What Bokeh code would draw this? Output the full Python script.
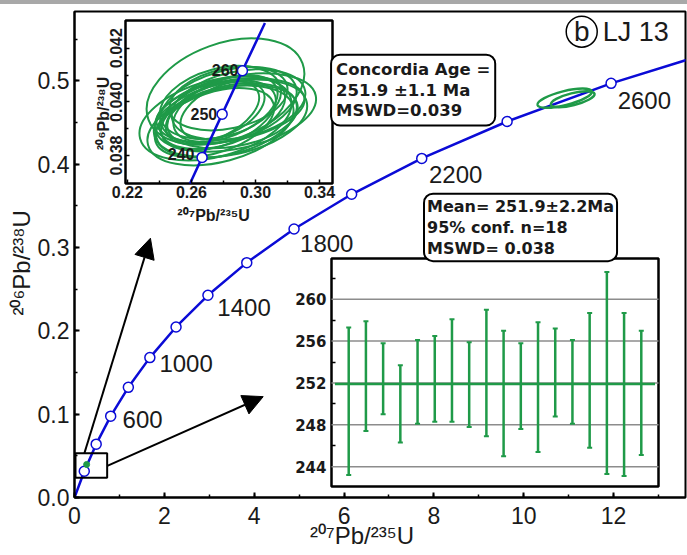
from bokeh.plotting import figure
from bokeh.models import (Range1d, LinearAxis, FixedTicker, SingleIntervalTicker,
                          NumeralTickFormatter, Label, Arrow, NormalHead, Spacer)
from bokeh.layouts import column
from bokeh.core.properties import value
from bokeh.embed import file_html
from bokeh.resources import INLINE

# ---------------- data ----------------
# concordia curve (age in Ma, 207Pb/235U, 206Pb/238U)
conc_age = [0, 200, 400, 600, 800, 1000, 1200, 1400, 1600, 1800, 2000, 2200, 2400, 2600, 2800]
conc_x = [0.0, 0.2177, 0.4828, 0.8056, 1.1987, 1.6774, 2.2603, 2.9701, 3.8344,
          4.8869, 6.1685, 7.7292, 9.6296, 11.9437, 14.7617]
conc_y = [0.0, 0.03151, 0.06402, 0.09754, 0.13213, 0.16781, 0.20460, 0.24256, 0.28172,
          0.32210, 0.36376, 0.40674, 0.45107, 0.49679, 0.54395]
age_labels = ["600", "1000", "1400", "1800", "2200", "2600"]
age_label_x = [1.07, 1.89, 3.18, 5.02, 7.89, 12.09]
age_label_y = [0.0935, 0.161, 0.228, 0.305, 0.388, 0.476]

# discordant ellipses on main diagram
main_ell_x = [10.91, 11.09]
main_ell_y = [0.479, 0.4778]
main_ell_w = [1.244, 1.0]
main_ell_h = [0.0168, 0.0144]
main_ell_angle = [14, 14]

# inset 1: zoomed concordia
ins_age = [234, 240, 250, 260, 271]
ins_x = [0.25912, 0.26664, 0.27917, 0.29183, 0.30590]
ins_y = [0.03696, 0.037932, 0.039543, 0.041157, 0.042935]
ins_labels = ["240", "250", "260"]
ell_x = [0.28126, 0.28751, 0.27501, 0.27814, 0.28313, 0.27939, 0.28438, 0.27689, 0.28126,
         0.27314, 0.28938, 0.28188, 0.27814, 0.28563, 0.27439, 0.28313, 0.27939, 0.28438]
ell_y = [0.040386, 0.039604, 0.039381, 0.039120, 0.039865, 0.039604, 0.039679, 0.039492, 0.039753,
         0.039604, 0.039902, 0.039306, 0.039976, 0.039455, 0.039232, 0.040125, 0.039679, 0.039381]
ell_w = [0.10243, 0.10243, 0.09744, 0.09369, 0.08744, 0.08120, 0.09369, 0.07495, 0.06871,
         0.06246, 0.08495, 0.08994, 0.07745, 0.08245, 0.07745, 0.07495, 0.05621, 0.09744]
ell_h = [0.003575, 0.002681, 0.002830, 0.002681, 0.002607, 0.002383, 0.002234, 0.002234, 0.002085,
         0.001936, 0.002458, 0.002532, 0.002532, 0.002234, 0.002234, 0.002234, 0.001788, 0.002681]
ell_angle = [20, 12, 15, 15, 15, 18, 10, 20, 22, 25, 12, 14, 15, 10, 18, 12, 25, 12]
ins_xticks = [0.22, 0.26, 0.30, 0.34]
ins_xminor = [0.24, 0.28, 0.32]
ins_yticks = [0.038, 0.040, 0.042]
ins_yminor = [0.039, 0.041]

# inset 2: weighted mean ages
wm_idx = list(range(1, 19))
wm_low = [243.2, 247.4, 249.0, 246.3, 248.1, 248.3, 248.3, 247.8, 246.9,
          245.0, 247.6, 245.4, 248.8, 248.1, 245.8, 243.3, 243.1, 245.1]
wm_high = [257.3, 257.9, 255.8, 253.7, 256.1, 256.5, 258.1, 255.9, 259.0,
           257.0, 255.8, 257.8, 257.2, 256.1, 258.7, 262.6, 258.7, 257.0]
wm_mean = 251.9
wm_ticks = [244, 248, 252, 256, 260]
wm_minor = [246, 250, 254, 258, 262]

# ---------------- styling ----------------
BLUE = "#0b0bd6"
GREEN = "#1f9a48"
TXT = "#1a1a1a"
SANS = "Liberation Sans"
WIDE = "DejaVu Sans"

# frame edges in page pixels (page has a 4px grey strip on top)
FL, FR, FT, FB = 74, 685, 11, 497


def frame_range(p0, p1, v0, v1, f0, f1):
    k = (v1 - v0) / (p1 - p0)
    return Range1d(start=v0 + (f0 - p0) * k, end=v0 + (f1 - p0) * k)


# inset boxes in page pixels and their domains
I1 = dict(l=125, r=332, t=20, b=183, x0=0.2188, x1=0.3481, y0=0.03696, y1=0.04303)
I2 = dict(l=331, r=658, t=258, b=486, x0=0.0, x1=19.0, y0=242.1, y1=263.9)

p = figure(width=687, height=551, x_range=Range1d(0, 13.6), y_range=Range1d(0, 0.583),
           output_backend="svg", toolbar_location=None,
           min_border_left=FL, min_border_right=687 - FR, min_border_top=FT - 4,
           min_border_bottom=551 - (FB - 4))
p.extra_x_ranges = {
    "i1x": frame_range(I1["l"], I1["r"], I1["x0"], I1["x1"], FL, FR),
    "i2x": frame_range(I2["l"], I2["r"], I2["x0"], I2["x1"], FL, FR),
}
p.extra_y_ranges = {
    "i1y": frame_range(I1["b"], I1["t"], I1["y0"], I1["y1"], FB, FT),
    "i2y": frame_range(I2["b"], I2["t"], I2["y0"], I2["y1"], FB, FT),
}
p.xgrid.visible = False
p.ygrid.visible = False
p.outline_line_color = "black"
p.outline_line_width = 2
p.background_fill_color = "white"
p.border_fill_color = "white"

p.xaxis.ticker = SingleIntervalTicker(interval=2, num_minor_ticks=2)
p.yaxis.ticker = SingleIntervalTicker(interval=0.1, num_minor_ticks=2)
p.yaxis.formatter = NumeralTickFormatter(format="0.0")
for ax in (p.xaxis[0], p.yaxis[0]):
    ax.axis_line_width = 2
    ax.major_tick_line_width = 2
    ax.minor_tick_line_width = 1.5
    ax.major_tick_in = 5
    ax.major_tick_out = 0
    ax.minor_tick_in = 3
    ax.minor_tick_out = 0
    ax.major_label_text_font = SANS
    ax.major_label_text_font_size = "23px"
    ax.major_label_text_color = TXT
    ax.axis_label_text_font = SANS
    ax.axis_label_text_font_style = "normal"
    ax.axis_label_text_font_size = "24px"
    ax.axis_label_text_color = TXT
p.xaxis.major_label_standoff = 9
p.yaxis.major_label_standoff = 5
# trailing wide spaces nudge the centred titles to where the reference has them
p.xaxis.axis_label = "²⁰⁷Pb/²³⁵U\u2003\u2002"
p.xaxis.axis_label_standoff = -5
p.yaxis.axis_label = "²⁰⁶Pb/²³⁸U\u2002\u2009"
p.yaxis.axis_label_standoff = 0

# main concordia
p.line(conc_x, conc_y, line_color=BLUE, line_width=2.5)
p.scatter(conc_x[1:-1], conc_y[1:-1], size=10, fill_color="white", line_color=BLUE, line_width=1.5)
p.text(x=age_label_x, y=age_label_y, text=age_labels, text_font=value(SANS),
       text_font_size="24px", text_baseline="middle", text_align="left", text_color=TXT)
p.ellipse(x=main_ell_x, y=main_ell_y, width=main_ell_w, height=main_ell_h, angle=main_ell_angle,
          angle_units="deg", fill_color=None, line_color=GREEN, line_width=2.5)
p.quad(left=0.022, right=0.727, bottom=0.0236, top=0.0531, fill_color=None,
       line_color="black", line_width=2)
p.scatter([0.27], [0.0396], size=6, color=GREEN)

for xs, ys, xe, ye in [(0.22, 0.053, 1.69, 0.311), (0.73, 0.038, 4.2, 0.121)]:
    p.add_layout(Arrow(end=NormalHead(size=20, fill_color="black", line_color="black"),
                       x_start=xs, y_start=ys, x_end=xe, y_end=ye,
                       line_width=2, line_color="black"))

# sample tag
p.scatter([11.29], [0.5588], size=31, fill_color="white", line_color="black", line_width=1.5)
p.text(x=[11.29], y=[0.5588], text=["b"], text_font=value(SANS), text_font_size="28px",
       text_align="center", text_baseline="middle", text_color=TXT)
p.text(x=[11.76], y=[0.5588], text=["LJ 13"], text_font=value(SANS), text_font_size="27px",
       text_align="left", text_baseline="middle", text_color=TXT)

# ---------------- inset 1 ----------------
r1 = dict(x_range_name="i1x", y_range_name="i1y")
p.quad(left=I1["x0"], right=I1["x1"], bottom=I1["y0"], top=I1["y1"], fill_color="white",
       line_color="black", line_width=2.5, **r1)
p.ellipse(x=ell_x, y=ell_y, width=ell_w, height=ell_h, angle=ell_angle, angle_units="deg",
          fill_color=None, line_color=GREEN, line_width=2, **r1)
p.line(ins_x, ins_y, line_color=BLUE, line_width=2.5, **r1)
p.scatter(ins_x[1:4], ins_y[1:4], size=10, fill_color="white", line_color=BLUE, line_width=1.5, **r1)
p.text(x=[0.2619, 0.27608, 0.28938], y=[0.03804, 0.039530, 0.041205], text=ins_labels,
       text_font=value(SANS), text_font_style="bold", text_font_size="16px",
       text_align="right", text_baseline="middle", text_color=TXT, **r1)

ax1x = LinearAxis(fixed_location=I1["y0"], bounds=(I1["x0"], I1["x1"]),
                  ticker=FixedTicker(ticks=ins_xticks, minor_ticks=ins_xminor),
                  formatter=NumeralTickFormatter(format="0.00"), **r1)
ax1y = LinearAxis(fixed_location=I1["x0"], bounds=(I1["y0"], I1["y1"]),
                  ticker=FixedTicker(ticks=ins_yticks, minor_ticks=ins_yminor),
                  formatter=NumeralTickFormatter(format="0.000"), **r1)
ax1y.major_label_orientation = "vertical"
for ax in (ax1x, ax1y):
    ax.axis_line_color = None
    ax.major_tick_in = 4
    ax.major_tick_out = 0
    ax.minor_tick_in = 3
    ax.minor_tick_out = 0
    ax.major_tick_line_width = 1.5
    ax.minor_tick_line_width = 1.5
    ax.major_label_text_font = SANS
    ax.major_label_text_font_style = "bold"
    ax.major_label_text_font_size = "16px"
    ax.major_label_text_color = TXT
ax1x.major_label_standoff = 2
ax1y.major_label_standoff = 3
p.add_layout(ax1x, "below")
p.add_layout(ax1y, "left")
p.add_layout(Label(x=0.27377, y=0.035768, text="²⁰⁷Pb/²³⁵U", text_font=SANS,
                   text_font_style="bold", text_font_size="16px", text_align="center",
                   text_baseline="alphabetic", text_color=TXT, **r1))
p.add_layout(Label(x=0.20506, y=0.039567, text="²⁰⁶Pb/²³⁸U", text_font=SANS,
                   text_font_style="bold", text_font_size="16px", text_align="center",
                   text_baseline="alphabetic", angle=90, angle_units="deg", text_color=TXT, **r1))

# ---------------- inset 2 ----------------
r2 = dict(x_range_name="i2x", y_range_name="i2y")
p.quad(left=I2["x0"], right=I2["x1"], bottom=I2["y0"], top=I2["y1"], fill_color="white",
       line_color="black", line_width=2.5, **r2)
p.segment(x0=[I2["x0"]] * len(wm_ticks), x1=[I2["x1"]] * len(wm_ticks), y0=wm_ticks, y1=wm_ticks,
          line_color="#8c8c8c", line_width=1.5, **r2)
p.segment(x0=[0.2], x1=[18.8], y0=[wm_mean], y1=[wm_mean], line_color=GREEN, line_width=2.5, **r2)
p.segment(x0=wm_idx, x1=wm_idx, y0=wm_low, y1=wm_high, line_color=GREEN, line_width=2.5, **r2)
p.scatter(wm_idx + wm_idx, wm_low + wm_high, marker="dash", size=5, line_color=GREEN,
          line_width=2, **r2)
ax2y = LinearAxis(fixed_location=I2["x0"], bounds=(I2["y0"], I2["y1"]),
                  ticker=FixedTicker(ticks=wm_ticks, minor_ticks=wm_minor), **r2)
ax2y.axis_line_color = None
ax2y.major_tick_in = 0
ax2y.major_tick_out = 0
ax2y.minor_tick_in = 4
ax2y.minor_tick_out = 0
ax2y.minor_tick_line_width = 1.5
ax2y.major_label_text_font = WIDE
ax2y.major_label_text_font_style = "bold"
ax2y.major_label_text_font_size = "15px"
ax2y.major_label_text_color = TXT
ax2y.major_label_standoff = 5
p.add_layout(ax2y, "left")

# ---------------- text boxes ----------------
p.add_layout(Label(x=5.711, y=0.5312, text="Concordia Age =\n251.9 ±1.1 Ma\nMSWD=0.039",
                   text_font=WIDE, text_font_style="bold", text_font_size="16.5px",
                   text_align="left", text_baseline="top", text_line_height=1.1,
                   text_color=TXT, border_line_color="black", border_line_width=2,
                   background_fill_color="white", padding=5, border_radius=9))
p.add_layout(Label(x=7.78, y=0.3645, text="Mean= 251.9±2.2Ma\n95% conf. n=18\nMSWD= 0.038",
                   text_font=WIDE, text_font_style="bold", text_font_size="16px",
                   text_align="left", text_baseline="top", text_line_height=1.12,
                   text_color=TXT, border_line_color="black", border_line_width=2,
                   background_fill_color="white", padding=3, border_radius=9))

strip = Spacer(width=687, height=4, styles={"background-color": "#a8a8a8"})
layout = column(strip, p)
open("out.html", "w").write(file_html(layout, INLINE))
